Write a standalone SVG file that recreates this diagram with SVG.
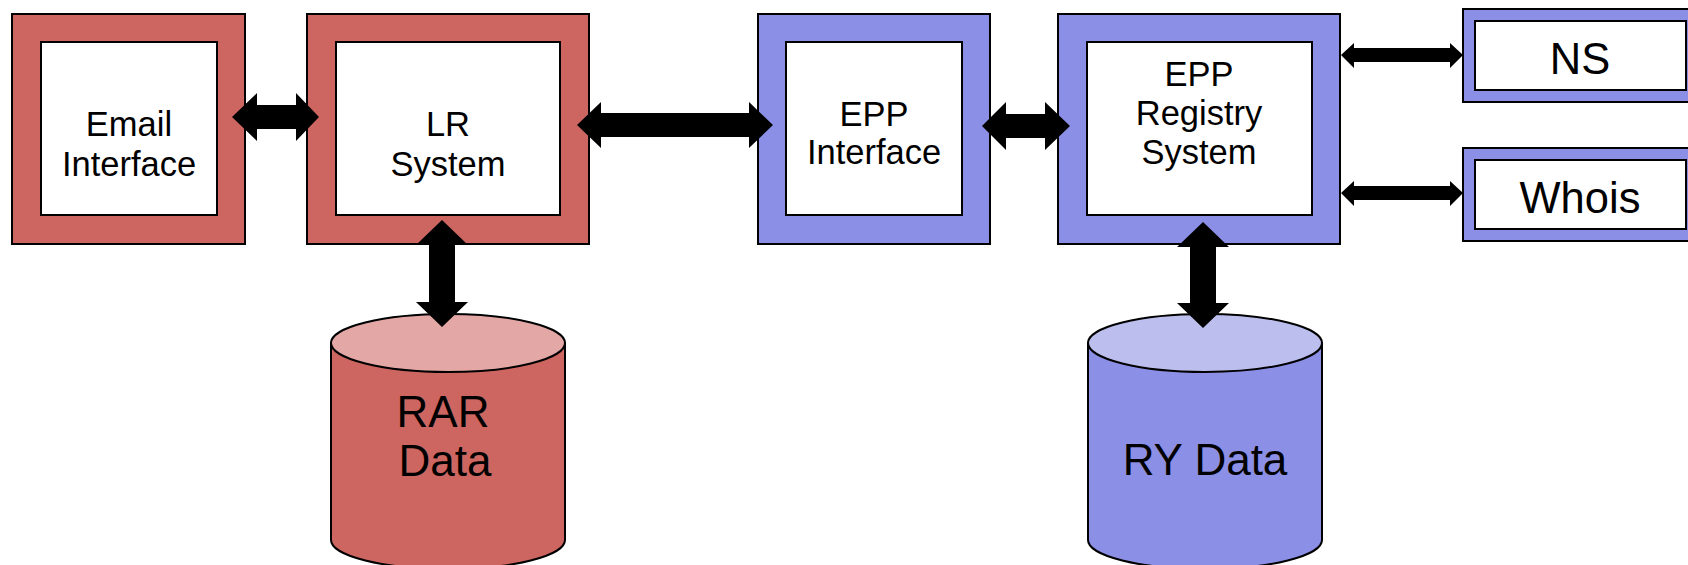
<svg xmlns="http://www.w3.org/2000/svg" width="1688" height="565" viewBox="0 0 1688 565">
<style>
.red{fill:#cd6661;stroke:#000;stroke-width:2}
.blue{fill:#8b8fe6;stroke:#000;stroke-width:2}
.inner{fill:#fff;stroke:#000;stroke-width:2}
.redtop{fill:#e3a8a6;stroke:#000;stroke-width:2}
.bluetop{fill:#bcbeee;stroke:#000;stroke-width:2}
.arr{fill:#000;stroke:none}
text{font-family:"Liberation Sans",Arial,sans-serif;fill:#000;text-anchor:middle}
.t33{font-size:34.5px}
.t43{font-size:43.5px}
.t44{font-size:44px}
</style>
<rect width="1688" height="565" fill="#fff"/>
<g id="email">
<rect class="red" x="12" y="14" width="233" height="230"/>
<rect class="inner" x="41" y="42" width="176" height="173"/>
<text class="t33" x="129" y="136">Email</text>
<text class="t33" x="129" y="176">Interface</text>
</g>
<g id="lr">
<rect class="red" x="307" y="14" width="282" height="230"/>
<rect class="inner" x="336" y="42" width="224" height="173"/>
<text class="t33" x="448" y="136">LR</text>
<text class="t33" x="448" y="176">System</text>
</g>
<g id="eppif">
<rect class="blue" x="758" y="14" width="232" height="230"/>
<rect class="inner" x="786" y="42" width="176" height="173"/>
<text class="t33" x="874" y="126">EPP</text>
<text class="t33" x="874" y="164">Interface</text>
</g>
<g id="eppreg">
<rect class="blue" x="1058" y="14" width="282" height="230"/>
<rect class="inner" x="1087" y="42" width="225" height="173"/>
<text class="t33" x="1199" y="86">EPP</text>
<text class="t33" x="1199" y="125">Registry</text>
<text class="t33" x="1199" y="164">System</text>
</g>
<g id="ns">
<rect class="blue" x="1463" y="9" width="240" height="93"/>
<rect class="inner" x="1475" y="21" width="211" height="69"/>
<text class="t43" x="1580" y="74">NS</text>
</g>
<g id="whois">
<rect class="blue" x="1463" y="148" width="240" height="93"/>
<rect class="inner" x="1475" y="160" width="211" height="69"/>
<text class="t43" x="1580" y="213">Whois</text>
</g>
<g id="rar">
<path class="red" d="M331,343 L331,540 A117,29 0 0 0 565,540 L565,343 Z"/>
<ellipse class="redtop" cx="448" cy="343" rx="117" ry="29"/>
<text class="t44" x="443" y="427">RAR</text>
<text class="t44" x="445" y="476">Data</text>
</g>
<g id="ry">
<path class="blue" d="M1088,343 L1088,540 A117,29 0 0 0 1322,540 L1322,343 Z"/>
<ellipse class="bluetop" cx="1205" cy="343" rx="117" ry="29"/>
<text class="t44" x="1205" y="475">RY Data</text>
</g>
<g id="connectors">
<polygon class="arr" points="232,117 257,93 257,105 296,105 296,93 319,117 296,141 296,129 257,129 257,141"/>
<polygon class="arr" points="577,125 601,102 601,113 749,113 749,102 773,125 749,148 749,137 601,137 601,148"/>
<polygon class="arr" points="982,126 1006,102 1006,114 1045,114 1045,102 1070,126 1045,150 1045,138 1006,138 1006,150"/>
<polygon class="arr" points="442,220 468,245 455,245 455,302 468,302 442,327 416,302 429,302 429,245 416,245"/>
<polygon class="arr" points="1203,222 1229,247 1216,247 1216,303 1229,303 1203,328 1177,303 1190,303 1190,247 1177,247"/>
<polygon class="arr" points="1341,55 1354,43 1354,48 1450,48 1450,43 1463,55 1450,68 1450,62 1354,62 1354,68"/>
<polygon class="arr" points="1341,193 1354,181 1354,186 1450,186 1450,181 1463,193 1450,206 1450,200 1354,200 1354,206"/>
</g>
</svg>
